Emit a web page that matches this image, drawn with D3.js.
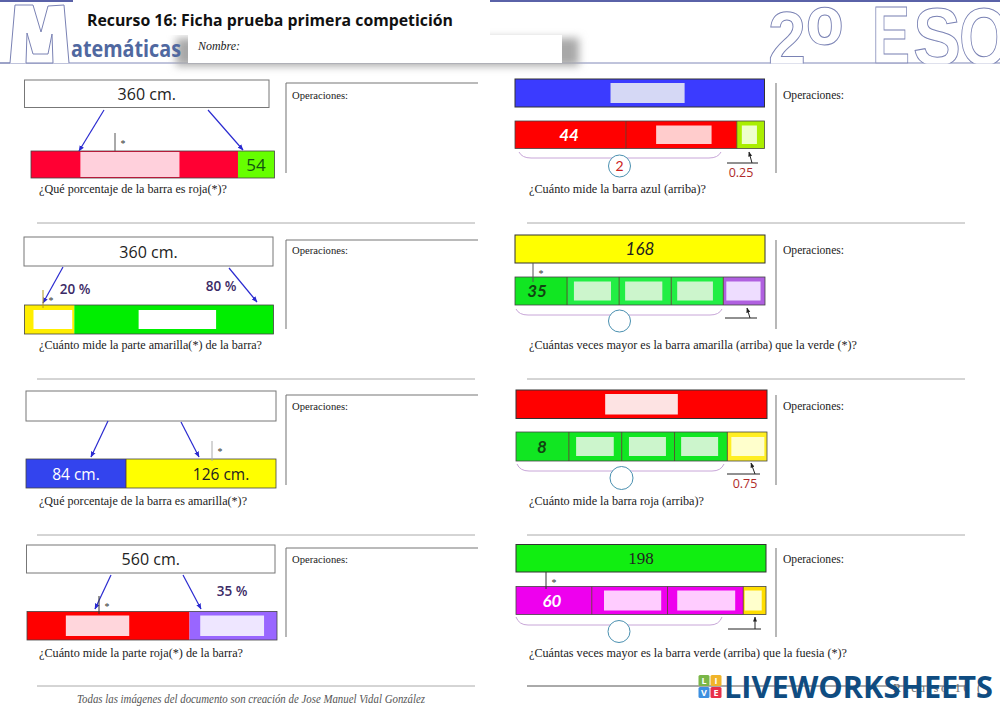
<!DOCTYPE html>
<html>
<head>
<meta charset="utf-8">
<script src="https://cdn.jsdelivr.net/npm/d3@7"></script>
<style>
  html, body { margin: 0; padding: 0; background: #fff; }
  svg { display: block; }
</style>
</head>
<body>
<div id="chart"></div>
<script>
// --- values read from the worksheet, panels go down the left column then the right one
const questions = [
  "¿Qué porcentaje de la barra es roja(*)?",
  "¿Cuánto mide la parte amarilla(*) de la barra?",
  "¿Qué porcentaje de la barra es amarilla(*)?",
  "¿Cuánto mide la parte roja(*) de la barra?",
  "¿Cuánto mide la barra azul (arriba)?",
  "¿Cuántas veces mayor es la barra amarilla (arriba) que la verde (*)?",
  "¿Cuánto mide la barra roja (arriba)?",
  "¿Cuántas veces mayor es la barra verde (arriba) que la fuesia (*)?"
];
const topLabels = ["360 cm.", "360 cm.", "", "560 cm.", "", "168", "", "198"];
const barValues = [
  [306, 54],
  [72, 288],
  [84, 126],
  [364, 196],
  [44, 44, 11],
  [35, 35, 35, 35, 28],
  [8, 8, 8, 8, 6],
  [60, 60, 60, 18]
];
const barLabels = [
  ["", "54"],
  ["", ""],
  ["84 cm.", "126 cm."],
  ["", ""],
  ["44", "", ""],
  ["35", "", "", "", ""],
  ["8", "", "", "", ""],
  ["60", "", "", ""]
];
const percentLabels = [[], ["20 %", "80 %"], [], ["35 %"], [], [], [], []];
const circleLabels = ["", "", "", "", "2", "", "", ""];
const fractionLabels = ["", "", "", "", "0.25", "", "0.75", ""];
// blanks, in the units of the bar they sit on
const barBlanks = [
  [[73, 219.5]],
  [[13, 69], [165, 277]],
  [],
  [[87, 229], [388, 531]],
  [[56, 78], [90, 96]],
  [[39.6, 64.5], [74, 99], [109, 133], [142, 165]],
  [[9.1, 14.8], [17.1, 22.7], [25, 30.6], [32.6, 37.6]],
  [[69.7, 115], [127.7, 173.6], [181.1, 194.6]]
];
const topBlanks = [[], [], [], [], [37.9, 67.3], [], [13.5, 24.5], []];

// --- colours
const barColors = [
  ["#ff0033", "#66ff00"],
  ["#ffee00", "#00ee00"],
  ["#3344ee", "#ffff00"],
  ["#ff0000", "#9966ff"],
  ["#ff0000", "#ff0000", "#aaee00"],
  ["#11e622", "#22ee44", "#22ee44", "#22ee44", "#b060e0"],
  ["#11e622", "#11e622", "#11e622", "#11e622", "#ffee22"],
  ["#ee00ee", "#ee00ee", "#ee00ee", "#ffdd00"]
];
const blankColors = [
  ["#ffd0dc"],
  ["#ffffff", "#ffffff"],
  [],
  ["#ffd6dc", "#eee6ff"],
  ["#ffcccc", "#eeffcc"],
  ["#ccf5cc", "#ccf5cc", "#ccf5cc", "#eeddff"],
  ["#ccf5cc", "#ccf5cc", "#ccf5cc", "#ffffcc"],
  ["#ffccff", "#ffccff", "#ffffcc"]
];
const topColors = ["#ffffff", "#ffffff", "#ffffff", "#ffffff", "#3b3bff", "#ffff00", "#ff0000", "#11ee11"];
const topBlankColors = [null, null, null, null, "#d5d8f5", null, "#fde3e3", null];
const labelColors = [
  ["", "#115511"],
  ["", ""],
  ["#ffffff", "#222222"],
  ["", ""],
  ["#ffffff", "", ""],
  ["#114411", "", "", "", ""],
  ["#114411", "", "", "", ""],
  ["#ffffff", "", "", ""]
];

// --- layout of each panel, in page pixels
const tops = [[24.5, 269, 80, 107.5], [24, 273, 237, 266], [26, 276, 391, 421], [26.5, 275, 545, 573],
              [515, 764.5, 79, 107], [515, 765, 235, 263], [516, 767, 390, 418.5], [516, 766, 544.5, 572]];
const bars = [[31, 274.5, 151, 178], [24.5, 273.5, 305, 334], [26, 276, 459, 488], [27, 277, 611.5, 640],
              [515, 764.5, 121, 148.5], [515, 765, 277, 305], [516, 767, 432, 461], [516, 766, 586.5, 614.5]];
const blankInset = [1, 5, 0, 4, 4.5, 4.5, 5, 4];
const arrows = [
  [[[104, 110], [79, 151]], [[208, 110], [243, 150]]],
  [[[63, 267], [43, 303]], [[229, 268], [257, 302]]],
  [[[108, 421], [91, 457]], [[181, 422], [199, 457]]],
  [[[111, 575], [95, 609]], [[183, 575], [201, 609]]],
  [], [], [], []
];
const stars = [[115, 133, 151, "#555"], [43, 290, 308, "#b59a20"], [212, 441, 461, "#aaa"], [99, 596, 614, "#333"],
               null, [533, 263, 282, "#555"], null, [546, 572, 589, "#333"]];
const percentPos = [[], [[75, 289], [221, 286]], [], [[232, 591]], [], [], [], []];
const labelX = [[0, 256], [], [76, 221], [], [569], [537], [542], [552]];
const braces = [null, null, null, null, [519, 721, 152, 158], [516, 722, 309, 315], [517, 724, 464, 471], [516, 722, 617, 625]];
const circles = [null, null, null, null, [619.5, 166, 11], [619.5, 321, 11], [621.5, 478, 11.5], [619, 631.5, 11]];
const fractions = [null, null, null, null,
  [727, 758, 163, 752, 749, 152], [725, 757, 318, 750, 747, 308],
  [727, 760, 474, 755, 751, 463], [728, 761, 629, 755, 755, 617]];
const fractionText = [null, null, null, null, [741, 172], null, [745, 483], null];
const questionPos = [[39, 190, 188], [39, 346, 223], [39, 502, 208], [39, 654, 204],
                     [529, 190, 177], [529, 346, 328], [529, 502, 175], [529, 654, 318]];
const separators = [[37, 475, 223], [37, 475, 379], [37, 475, 535], [37, 475, 686],
                    [527, 965, 223], [527, 965, 379], [527, 965, 535], [527, 965, 686]];
const opsY = [[83, 173], [240, 329], [395, 485], [548, 637], [83, 173], [240, 329], [395, 485], [548, 637]];
const opsText = [96, 251, 407, 560, 96, 251, 407, 560];

const handFont = "Lato, sans-serif";
const serifFont = "'Liberation Serif', serif";
const sansFont = "'Open Sans', sans-serif";

const svg = d3.select("#chart").append("svg").attr("width", 1000).attr("height", 707);
svg.append("rect").attr("width", 1000).attr("height", 707).attr("fill", "#fff");

const defs = svg.append("defs");
defs.append("marker").attr("id", "arrow").attr("viewBox", "0 -5 10 10").attr("refX", 9).attr("refY", 0)
  .attr("markerWidth", 5).attr("markerHeight", 5).attr("orient", "auto")
  .append("path").attr("d", "M0,-4L10,0L0,4").attr("fill", "#2a2ad0");
defs.append("marker").attr("id", "tick-arrow").attr("viewBox", "0 -5 10 10").attr("refX", 9).attr("refY", 0)
  .attr("markerWidth", 5).attr("markerHeight", 5).attr("orient", "auto")
  .append("path").attr("d", "M0,-4L10,0L0,4").attr("fill", "#222");
defs.append("filter").attr("id", "soft").attr("x", "-20%").attr("y", "-50%").attr("width", "140%").attr("height", "200%")
  .append("feGaussianBlur").attr("stdDeviation", 4.5);
defs.append("clipPath").attr("id", "head-clip").append("rect").attr("width", 1000).attr("height", 63.5);

// --- header
const head = svg.append("g");
head.append("line").attr("x1", 0).attr("x2", 1000).attr("y1", 1).attr("y2", 1).attr("stroke", "#5a62a8").attr("stroke-width", 2);
head.append("line").attr("x1", 0).attr("x2", 1000).attr("y1", 63).attr("y2", 63).attr("stroke", "#8088b8").attr("stroke-width", 1);
head.append("path").attr("d", "M0,63L10,63L15,5L33,5L41,32L48,6L64,5L69,63M26,63L27,33L33,54L48,54L52,34L53,63Z")
  .attr("fill", "#fff").attr("stroke", "#7a82b4").attr("stroke-width", 1);
head.append("rect").attr("x", 176).attr("y", 38).attr("width", 403).attr("height", 28).attr("fill", "#a8a8a8").attr("filter", "url(#soft)");
head.append("rect").attr("x", 73).attr("y", 0).attr("width", 417).attr("height", 35).attr("fill", "#fff");
head.append("rect").attr("x", 188).attr("y", 35).attr("width", 374).attr("height", 28).attr("fill", "#fff");
head.append("text").attr("x", 87).attr("y", 26).attr("font-family", sansFont).attr("font-weight", 700)
  .attr("font-size", 16).attr("textLength", 366).attr("lengthAdjust", "spacingAndGlyphs").attr("fill", "#111")
  .text("Recurso 16: Ficha prueba primera competición");
head.append("text").attr("x", 71).attr("y", 57).attr("font-family", sansFont).attr("font-weight", 700)
  .attr("font-size", 24).attr("textLength", 110).attr("lengthAdjust", "spacingAndGlyphs").attr("fill", "#5068a0")
  .text("atemáticas");
head.append("text").attr("x", 198).attr("y", 50).attr("font-family", serifFont).attr("font-style", "italic")
  .attr("font-size", 11.5).attr("textLength", 42).attr("lengthAdjust", "spacingAndGlyphs").attr("fill", "#222").text("Nombre:");

const courseGroup = head.append("g").attr("clip-path", "url(#head-clip)");
courseGroup.selectAll("text")
  .data([["2", 768, 65, 76, 38], ["º", 806, 84, 112, 37], ["E", 872, 63, 82, 38], ["S", 913, 65, 82, 48], ["O", 959, 65, 82, 50]])
  .enter().append("text")
  .attr("x", d => d[1]).attr("y", d => d[2]).attr("font-size", d => d[3])
  .attr("textLength", d => d[4]).attr("lengthAdjust", "spacingAndGlyphs")
  .attr("font-family", "'Liberation Sans', sans-serif").attr("font-weight", 700)
  .attr("fill", "#fff").attr("stroke", "#7a82b4").attr("stroke-width", 1)
  .text(d => d[0]);

// --- panels
questions.forEach((question, i) => {
  const g = svg.append("g").attr("class", "panel");
  const total = d3.sum(barValues[i]);
  const [bx0, bx1, by0, by1] = bars[i];
  const [tx0, tx1, ty0, ty1] = tops[i];
  const x = d3.scaleLinear().domain([0, total]).range([bx0, bx1]);
  const xTop = d3.scaleLinear().domain([0, total]).range([tx0, tx1]);

  // top box
  g.append("rect").attr("x", tx0).attr("y", ty0).attr("width", tx1 - tx0).attr("height", ty1 - ty0)
    .attr("fill", topColors[i]).attr("stroke", i < 4 ? "#777" : "#333").attr("stroke-width", 1);
  if (topBlanks[i].length) {
    g.append("rect").attr("x", xTop(topBlanks[i][0])).attr("width", xTop(topBlanks[i][1]) - xTop(topBlanks[i][0]))
      .attr("y", ty0 + 4).attr("height", ty1 - ty0 - 8).attr("fill", topBlankColors[i]);
  }
  if (topLabels[i]) {
    const plain = i < 4;
    g.append("text").attr("x", (tx0 + tx1) / 2).attr("y", (ty0 + ty1) / 2 + 6)
      .attr("text-anchor", "middle")
      .attr("font-family", plain ? sansFont : (i === 7 ? serifFont : handFont))
      .attr("font-style", i === 5 ? "italic" : "normal")
      .attr("font-size", plain ? 16 : 17).attr("fill", "#222").text(topLabels[i]);
  }

  // bar segments
  const starts = [0, ...d3.cumsum(barValues[i])];
  g.selectAll("rect.seg").data(barValues[i]).enter().append("rect").attr("class", "seg")
    .attr("x", (d, j) => x(starts[j])).attr("width", d => x(d) - x(0))
    .attr("y", by0).attr("height", by1 - by0)
    .attr("fill", (d, j) => barColors[i][j]);
  g.selectAll("line.div").data(barValues[i].slice(1)).enter().append("line").attr("class", "div")
    .attr("x1", (d, j) => x(starts[j + 1])).attr("x2", (d, j) => x(starts[j + 1]))
    .attr("y1", by0).attr("y2", by1).attr("stroke", i === 0 || i === 1 || i === 3 ? "none" : "#553322").attr("stroke-width", 0.8);
  g.append("rect").attr("x", bx0).attr("y", by0).attr("width", bx1 - bx0).attr("height", by1 - by0)
    .attr("fill", "none").attr("stroke", "#444").attr("stroke-width", 0.8);

  // blanks
  g.selectAll("rect.blank").data(barBlanks[i]).enter().append("rect").attr("class", "blank")
    .attr("x", d => x(d[0])).attr("width", d => x(d[1]) - x(d[0]))
    .attr("y", by0 + blankInset[i]).attr("height", by1 - by0 - 2 * blankInset[i])
    .attr("fill", (d, j) => blankColors[i][j]);

  // labels on the bar
  barLabels[i].forEach((label, j) => {
    if (!label) return;
    g.append("text").attr("x", labelX[i][j]).attr("y", (by0 + by1) / 2 + 6).attr("text-anchor", "middle")
      .attr("font-family", i >= 4 ? handFont : sansFont).attr("font-style", i >= 4 ? "italic" : "normal")
      .attr("font-weight", i >= 4 ? 700 : 400).attr("font-size", i === 2 ? 15.5 : 17)
      .attr("fill", labelColors[i][j]).text(label);
  });

  // blue arrows from box to bar
  g.selectAll("line.arrow").data(arrows[i]).enter().append("line").attr("class", "arrow")
    .attr("x1", d => d[0][0]).attr("y1", d => d[0][1]).attr("x2", d => d[1][0]).attr("y2", d => d[1][1])
    .attr("stroke", "#2a2ad0").attr("stroke-width", 1.2).attr("marker-end", "url(#arrow)");

  // tick with the star
  if (stars[i]) {
    const [sx, sy0, sy1, sc] = stars[i];
    g.append("line").attr("x1", sx).attr("x2", sx).attr("y1", sy0).attr("y2", sy1).attr("stroke", sc).attr("stroke-width", 1);
    g.append("text").attr("x", sx + 8).attr("y", sy0 + 14).attr("text-anchor", "middle")
      .attr("font-family", serifFont).attr("font-size", 10).attr("fill", "#333").text("*");
  }

  // percents
  percentLabels[i].forEach((label, j) => {
    g.append("text").attr("x", percentPos[i][j][0]).attr("y", percentPos[i][j][1] + 5).attr("text-anchor", "middle")
      .attr("font-family", sansFont).attr("font-weight", 600).attr("font-size", 13.5).attr("fill", "#3b2a66").text(label);
  });

  // brace, circle, fraction
  if (braces[i]) {
    const [x0, x1, y0, y1] = braces[i];
    g.append("path").attr("d", `M${x0},${y0}Q${x0 + 3},${y1} ${x0 + 12},${y1}L${x1 - 12},${y1}Q${x1 - 3},${y1} ${x1},${y0}`)
      .attr("fill", "none").attr("stroke", "#c8a6d8").attr("stroke-width", 1);
  }
  if (circles[i]) {
    const [cx, cy, r] = circles[i];
    g.append("circle").attr("cx", cx).attr("cy", cy).attr("r", r).attr("fill", "#fff").attr("stroke", "#4a90b0").attr("stroke-width", 1);
    if (circleLabels[i]) {
      g.append("text").attr("x", cx).attr("y", cy + 5).attr("text-anchor", "middle").attr("font-family", handFont)
        .attr("font-size", 14).attr("fill", "#cc2222").text(circleLabels[i]);
    }
  }
  if (fractions[i]) {
    const [x0, x1, y, ax0, ax1, ay1] = fractions[i];
    g.append("line").attr("x1", x0).attr("x2", x1).attr("y1", y).attr("y2", y).attr("stroke", "#222").attr("stroke-width", 1);
    g.append("line").attr("x1", ax0).attr("y1", y).attr("x2", ax1).attr("y2", ay1)
      .attr("stroke", "#222").attr("stroke-width", 1).attr("marker-end", "url(#tick-arrow)");
  }
  if (fractionLabels[i]) {
    g.append("text").attr("x", fractionText[i][0]).attr("y", fractionText[i][1] + 5).attr("text-anchor", "middle")
      .attr("font-family", sansFont).attr("font-size", 12.5).attr("fill", "#b02a2a").text(fractionLabels[i]);
  }

  // question
  g.append("text").attr("x", questionPos[i][0]).attr("y", questionPos[i][1] + 3)
    .attr("font-family", serifFont).attr("font-size", 12).attr("fill", "#222")
    .attr("textLength", questionPos[i][2]).attr("lengthAdjust", "spacingAndGlyphs").text(question);

  // separator
  g.append("line").attr("x1", separators[i][0]).attr("x2", separators[i][1])
    .attr("y1", separators[i][2]).attr("y2", separators[i][2]).attr("stroke", i === 7 ? "#555" : "#aaa").attr("stroke-width", 1);

  // operations area
  const opsX = i < 4 ? 286 : 776;
  g.append("line").attr("x1", opsX).attr("x2", opsX).attr("y1", opsY[i][0]).attr("y2", opsY[i][1])
    .attr("stroke", "#888").attr("stroke-width", 1.2);
  if (i < 4) {
    g.append("line").attr("x1", opsX).attr("x2", 478).attr("y1", opsY[i][0]).attr("y2", opsY[i][0])
      .attr("stroke", "#777").attr("stroke-width", 1.2);
  }
  g.append("text").attr("x", opsX + (i < 4 ? 6 : 7)).attr("y", opsText[i] + 3)
    .attr("font-family", serifFont).attr("font-size", i < 4 ? 11 : 12).attr("fill", "#222")
    .attr("textLength", i < 4 ? 56 : 61).attr("lengthAdjust", "spacingAndGlyphs").text("Operaciones:");
});

// --- footer
svg.append("text").attr("x", 77).attr("y", 703).attr("font-family", serifFont).attr("font-style", "italic")
  .attr("font-size", 11.5).attr("textLength", 348).attr("lengthAdjust", "spacingAndGlyphs").attr("fill", "#555")
  .text("Todas las imágenes del documento son creación de Jose Manuel Vidal González");
svg.append("text").attr("x", 893).attr("y", 692).attr("font-family", serifFont).attr("font-size", 12)
  .attr("textLength", 88).attr("fill", "#666").text("Recurso 16 (");

// --- logo
const logo = svg.append("g");
const logoLetters = ["L", "I", "V", "E"];
const logoColors = ["#7ab648", "#f0b429", "#3d8fe0", "#e8304a"];
logo.selectAll("rect").data(logoLetters).enter().append("rect")
  .attr("x", (d, j) => 698.5 + (j % 2) * 12).attr("y", (d, j) => 675 + Math.floor(j / 2) * 12)
  .attr("width", 11).attr("height", 11).attr("rx", 1.5).attr("fill", (d, j) => logoColors[j]);
logo.selectAll("text.cell").data(logoLetters).enter().append("text").attr("class", "cell")
  .attr("x", (d, j) => 704 + (j % 2) * 12).attr("y", (d, j) => 684 + Math.floor(j / 2) * 12)
  .attr("text-anchor", "middle").attr("font-family", sansFont).attr("font-weight", 700).attr("font-size", 9)
  .attr("fill", "#fff").text(d => d);
logo.append("text").attr("x", 724).attr("y", 698).attr("font-family", sansFont).attr("font-weight", 700)
  .attr("font-size", 31).attr("textLength", 269).attr("lengthAdjust", "spacingAndGlyphs").attr("fill", "#0f4c81")
  .text("LIVEWORKSHEETS");
</script>
</body>
</html>
